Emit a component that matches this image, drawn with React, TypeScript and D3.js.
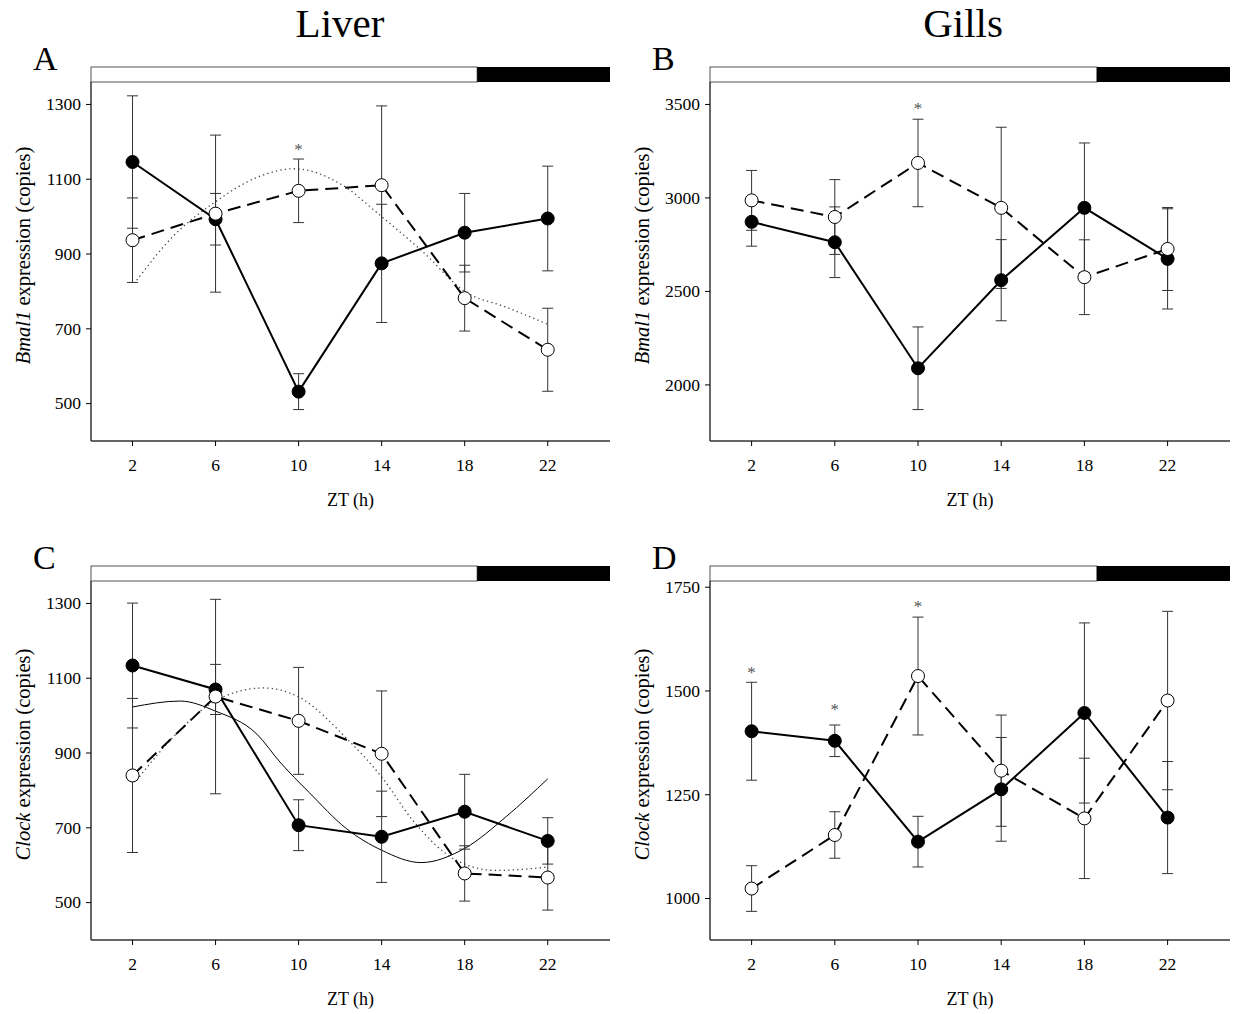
import React from "react";
import * as d3 from "d3";

// ---------- data ----------
const zt = [2, 6, 10, 14, 18, 22];
const xTicks = [2, 6, 10, 14, 18, 22];

const liverBmal1Filled = [1146, 993, 532, 875, 957, 995];
const liverBmal1FilledSE = [177, 69, 48, 158, 105, 140];
const liverBmal1Open = [937, 1008, 1069, 1084, 782, 644];
const liverBmal1OpenSE = [113, 210, 85, 212, 88, 111];
const liverBmal1DottedX = [2.2, 4, 6, 8, 9.8, 12, 14, 16, 18, 20, 22];
const liverBmal1DottedY = [830, 950, 1040, 1105, 1128, 1088, 1000, 905, 800, 758, 712];
const liverBmal1Stars = [{ x: 10, v: 1191 }];
const liverYTicks = [500, 700, 900, 1100, 1300];

const gillsBmal1Filled = [2872, 2763, 2089, 2560, 2947, 2674];
const gillsBmal1FilledSE = [130, 189, 221, 217, 347, 268];
const gillsBmal1Open = [2987, 2898, 3187, 2947, 2576, 2727];
const gillsBmal1OpenSE = [160, 200, 234, 431, 200, 222];
const gillsBmal1Stars = [{ x: 10, v: 3505 }];
const gillsBmal1YTicks = [2000, 2500, 3000, 3500];

const liverClockFilled = [1134, 1070, 707, 676, 743, 665];
const liverClockFilledSE = [167, 67, 68, 122, 100, 62];
const liverClockOpen = [840, 1051, 986, 898, 578, 567];
const liverClockOpenSE = [206, 260, 143, 168, 74, 87];
const liverClockDottedX = [2.2, 4, 6, 8.3, 10, 12.4, 14, 15.5, 17.6, 19.5, 22];
const liverClockDottedY = [827, 945, 1040, 1074, 1050, 934, 836, 720, 613, 586, 595];
const liverClockThinX = [2, 4.3, 6, 8, 9.1, 10.5, 12.3, 14, 15.9, 18, 20, 22];
const liverClockThinY = [1023, 1039, 1012, 950, 876, 795, 698, 640, 607, 645, 730, 831];

const gillsClockFilled = [1403, 1380, 1137, 1263, 1447, 1195];
const gillsClockFilledSE = [118, 38, 61, 125, 217, 135];
const gillsClockOpen = [1024, 1153, 1536, 1308, 1193, 1477];
const gillsClockOpenSE = [55, 56, 142, 134, 145, 215];
const gillsClockStars = [
  { x: 2, v: 1555 },
  { x: 6, v: 1467 },
  { x: 10, v: 1715 },
];
const gillsClockYTicks = [1000, 1250, 1500, 1750];

const lightsOff = 18.6;
const xMax = 25;

// ---------- components ----------
const FONT = "'Liberation Serif', 'Times New Roman', serif";

type Curve = { xs: number[]; ys: number[]; kind: "dotted" | "thin" };

interface PanelProps {
  left: number;
  right: number;
  top: number;
  bottom: number;
  yDomain: [number, number];
  yTicks: number[];
  filled: number[];
  filledSE: number[];
  open: number[];
  openSE: number[];
  curves: Curve[];
  stars: { x: number; v: number }[];
  gene: string;
  letter: string;
}

function Panel(p: PanelProps) {
  const x = d3.scaleLinear().domain([0, xMax]).range([p.left, p.right]);
  const y = d3.scaleLinear().domain(p.yDomain).range([p.bottom, p.top]);
  const line = d3
    .line<number>()
    .x((_, i) => x(zt[i]))
    .y((d) => y(d));
  const curveGen = d3
    .line<[number, number]>()
    .x((d) => x(d[0]))
    .y((d) => y(d[1]))
    .curve(d3.curveMonotoneX);
  const barTop = p.top - 15;
  const r = 6.5;
  const cap = 5.5;

  const errBars = (vals: number[], se: number[], key: string) =>
    vals.map((v, i) => (
      <g key={key + i} stroke="#333" strokeWidth={1}>
        <line x1={x(zt[i])} x2={x(zt[i])} y1={y(v + se[i])} y2={y(v - se[i])} />
        <line x1={x(zt[i]) - cap} x2={x(zt[i]) + cap} y1={y(v + se[i])} y2={y(v + se[i])} />
        <line x1={x(zt[i]) - cap} x2={x(zt[i]) + cap} y1={y(v - se[i])} y2={y(v - se[i])} />
      </g>
    ));

  const labelY = (p.top + p.bottom) / 2 - 6;
  return (
    <g>
      {/* letter */}
      <text x={p.left - 58} y={barTop + 3} fontSize={34} fontFamily={FONT}>
        {p.letter}
      </text>
      {/* light/dark bar */}
      <rect
        x={x(0)}
        y={barTop}
        width={x(lightsOff) - x(0)}
        height={15}
        fill="white"
        stroke="#555"
        strokeWidth={1}
      />
      <rect x={x(lightsOff)} y={barTop} width={x(xMax) - x(lightsOff)} height={15} fill="black" />
      {/* axes */}
      <line x1={p.left} x2={p.left} y1={p.top} y2={p.bottom} stroke="black" strokeWidth={1.2} />
      <line x1={p.left} x2={p.right} y1={p.bottom} y2={p.bottom} stroke="#333" strokeWidth={1.5} />
      {p.yTicks.map((t) => (
        <g key={"yt" + t}>
          <line x1={p.left - 5} x2={p.left} y1={y(t)} y2={y(t)} stroke="black" />
          <text
            x={p.left - 10}
            y={y(t)}
            dy="0.33em"
            textAnchor="end"
            fontSize={17.5}
            fontFamily={FONT}
          >
            {t}
          </text>
        </g>
      ))}
      {xTicks.map((t) => (
        <g key={"xt" + t}>
          <line x1={x(t)} x2={x(t)} y1={p.bottom} y2={p.bottom + 5} stroke="black" />
          <text x={x(t)} y={p.bottom + 30} textAnchor="middle" fontSize={17.5} fontFamily={FONT}>
            {t}
          </text>
        </g>
      ))}
      <text
        x={(p.left + p.right) / 2}
        y={p.bottom + 65}
        textAnchor="middle"
        fontSize={18}
        fontFamily={FONT}
      >
        ZT (h)
      </text>
      <text
        transform={`translate(${p.left - 68},${labelY}) rotate(-90)`}
        dy="0.35em"
        textAnchor="middle"
        fontSize={20.5}
        fontFamily={FONT}
      >
        <tspan fontStyle="italic">{p.gene}</tspan> expression (copies)
      </text>

      {/* fitted curves */}
      {p.curves.map((c, ci) => (
        <path
          key={"c" + ci}
          d={curveGen(c.xs.map((xx, i) => [xx, c.ys[i]] as [number, number])) || ""}
          fill="none"
          stroke={c.kind === "dotted" ? "#444" : "black"}
          strokeWidth={c.kind === "dotted" ? 1.3 : 1}
          strokeDasharray={c.kind === "dotted" ? "1.3,3.2" : undefined}
        />
      ))}

      {/* error bars */}
      {errBars(p.filled, p.filledSE, "fe")}
      {errBars(p.open, p.openSE, "oe")}

      {/* lines */}
      <path d={line(p.filled) || ""} fill="none" stroke="black" strokeWidth={2} />
      <path
        d={line(p.open) || ""}
        fill="none"
        stroke="black"
        strokeWidth={2}
        strokeDasharray="13,7"
      />

      {/* markers */}
      {p.filled.map((v, i) => (
        <circle key={"fc" + i} cx={x(zt[i])} cy={y(v)} r={r} fill="black" stroke="black" />
      ))}
      {p.open.map((v, i) => (
        <circle key={"oc" + i} cx={x(zt[i])} cy={y(v)} r={r} fill="white" stroke="black" />
      ))}

      {p.stars.map((s, i) => (
        <text
          key={"s" + i}
          x={x(s.x)}
          y={y(s.v)}
          dy="0.6em"
          textAnchor="middle"
          fontSize={17}
          fill="#555"
          fontFamily={FONT}
        >
          *
        </text>
      ))}
    </g>
  );
}

export default function App() {
  return (
    <svg
      width={1243}
      height={1014}
      style={{ display: "block", position: "absolute", left: 0, top: 0, background: "white" }}
    >
      <rect width={1243} height={1014} fill="white" />
      <text x={340} y={37} textAnchor="middle" fontSize={41} fontFamily={FONT}>
        Liver
      </text>
      <text x={963} y={37} textAnchor="middle" fontSize={41} fontFamily={FONT}>
        Gills
      </text>
      <Panel
        left={91}
        right={610}
        top={82}
        bottom={441}
        yDomain={[400, 1360]}
        yTicks={liverYTicks}
        filled={liverBmal1Filled}
        filledSE={liverBmal1FilledSE}
        open={liverBmal1Open}
        openSE={liverBmal1OpenSE}
        curves={[{ xs: liverBmal1DottedX, ys: liverBmal1DottedY, kind: "dotted" }]}
        stars={liverBmal1Stars}
        gene="Bmal1"
        letter="A"
      />
      <Panel
        left={710}
        right={1230}
        top={82}
        bottom={441}
        yDomain={[1700, 3620]}
        yTicks={gillsBmal1YTicks}
        filled={gillsBmal1Filled}
        filledSE={gillsBmal1FilledSE}
        open={gillsBmal1Open}
        openSE={gillsBmal1OpenSE}
        curves={[]}
        stars={gillsBmal1Stars}
        gene="Bmal1"
        letter="B"
      />
      <Panel
        left={91}
        right={610}
        top={581}
        bottom={940}
        yDomain={[400, 1360]}
        yTicks={liverYTicks}
        filled={liverClockFilled}
        filledSE={liverClockFilledSE}
        open={liverClockOpen}
        openSE={liverClockOpenSE}
        curves={[
          { xs: liverClockDottedX, ys: liverClockDottedY, kind: "dotted" },
          { xs: liverClockThinX, ys: liverClockThinY, kind: "thin" },
        ]}
        stars={[]}
        gene="Clock"
        letter="C"
      />
      <Panel
        left={710}
        right={1230}
        top={581}
        bottom={940}
        yDomain={[900, 1765]}
        yTicks={gillsClockYTicks}
        filled={gillsClockFilled}
        filledSE={gillsClockFilledSE}
        open={gillsClockOpen}
        openSE={gillsClockOpenSE}
        curves={[]}
        stars={gillsClockStars}
        gene="Clock"
        letter="D"
      />
    </svg>
  );
}
